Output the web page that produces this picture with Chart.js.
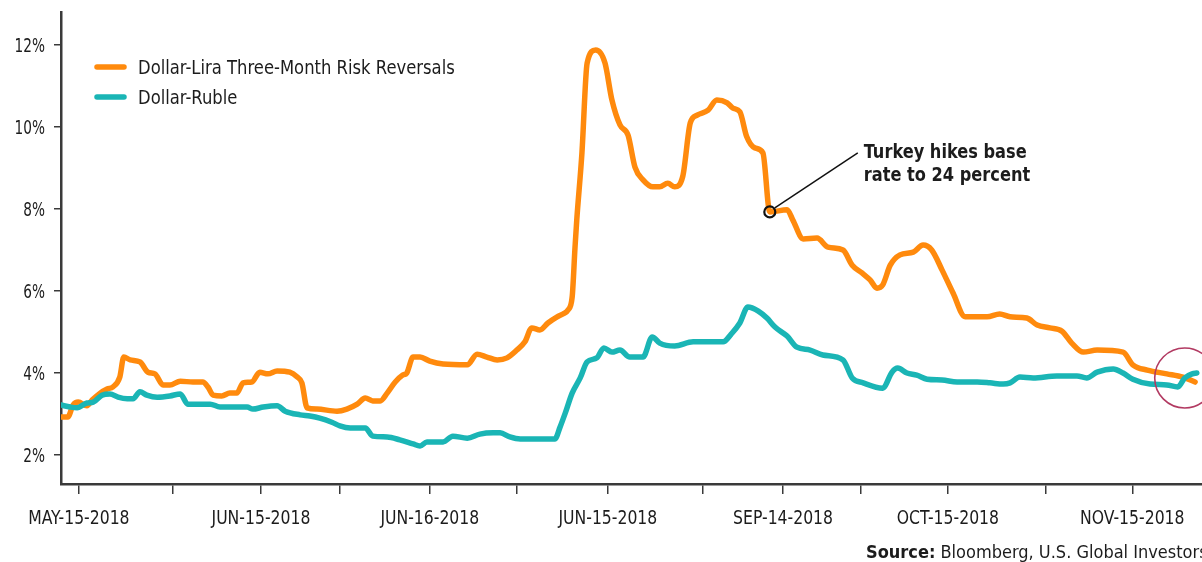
<!DOCTYPE html>
<html><head><meta charset="utf-8">
<script src="https://cdn.jsdelivr.net/npm/chart.js@4.4.1/dist/chart.umd.min.js"></script>
<style>html,body{margin:0;padding:0;background:#fff;overflow:hidden}#wrap{position:relative;width:1202px;height:562px}</style>
</head><body><div id="wrap"><canvas id="c" width="1202" height="562"></canvas></div>
<script>
// x values: days since the axis start (~May 12 2018)
const liraDays = [0,1.2,2.1,3.0,4.5,5.4,6.8,8.0,9.0,10.2,10.9,12.0,13.7,15.1,16.3,17.7,18.9,20.7,22.9,24.6,25.5,26.4,27.9,29.3,30.5,31.6,33.1,34.5,35.9,37.5,39.7,41.0,41.8,42.7,44.4,47.9,49.6,51.4,52.8,54.1,55.4,56.6,58.0,59.3,60.0,61.1,62.3,64.0,66.3,70.5,72.2,73.9,75.7,77.4,79.1,80.5,81.7,83.1,84.5,86.1,87.1,88.0,88.7,89.2,89.5,90.4,91.3,92.8,94.4,95.6,97.0,98.4,99.6,101.0,102.7,103.9,105.3,106.5,107.9,109.2,110.4,112.3,113.8,115.6,116.6,117.8,119.0,120.4,121.8,123.0,126.0,127.0,128.8,131.2,133.1,135.7,137.3,139.0,140.4,141.6,142.6,143.9,145.6,147.9,149.6,151.1,152.9,154.8,156.9,160.7,162.9,164.7,167.6,169.4,171.6,173.7,175.4,177.4,179.8,184.3,186.0,188.5,191.9,194.7,196.8];
const liraValues = [2.93,2.93,3.22,3.29,3.20,3.34,3.51,3.61,3.66,3.90,4.39,4.32,4.27,4.02,3.98,3.71,3.71,3.80,3.78,3.78,3.66,3.46,3.44,3.51,3.51,3.76,3.78,4.02,3.98,4.05,4.02,3.90,3.76,3.15,3.12,3.07,3.12,3.24,3.39,3.32,3.32,3.51,3.78,3.95,4.00,4.39,4.39,4.29,4.22,4.20,4.46,4.39,4.32,4.37,4.56,4.76,5.10,5.05,5.22,5.37,5.44,5.54,5.85,7.07,7.73,9.37,11.56,11.88,11.56,10.66,10.05,9.80,9.02,8.71,8.54,8.54,8.63,8.54,8.80,10.10,10.29,10.41,10.66,10.59,10.46,10.37,9.76,9.49,9.37,7.93,7.98,7.73,7.27,7.29,7.07,7.00,6.63,6.44,6.27,6.07,6.15,6.63,6.88,6.95,7.12,7.00,6.51,5.95,5.37,5.37,5.44,5.37,5.34,5.17,5.10,5.02,4.73,4.51,4.56,4.51,4.20,4.07,3.98,3.90,3.78];
const rubleDays = [0,1.6,2.8,4.5,5.6,7.1,8.5,9.9,11.5,12.5,13.7,14.9,16.7,18.9,20.7,22.0,24.1,25.9,27.6,29.8,32.3,33.3,35.1,37.5,38.9,41.5,43.2,44.9,47.0,48.4,50.2,52.8,54.1,56.6,58.8,61.1,62.3,63.5,66.3,68.0,70.5,72.7,75.0,76.2,77.9,79.7,85.7,86.6,87.5,88.7,90.1,91.3,93.0,94.2,95.6,97.0,98.7,101.0,102.6,103.9,106.5,109.7,111.4,114.9,116.3,117.8,119.2,121.0,122.5,123.9,126.0,127.7,130.0,132.2,135.7,137.3,139.2,142.6,144.2,145.2,146.8,148.5,150.3,152.9,155.5,159.0,161.2,163.5,164.7,166.4,168.7,172.8,176.3,178.0,179.8,182.6,184.3,186.0,189.0,191.9,193.8,195.0,196.3,197.1];
const rubleValues = [3.22,3.17,3.15,3.27,3.29,3.46,3.49,3.41,3.37,3.37,3.54,3.46,3.41,3.44,3.49,3.24,3.24,3.24,3.17,3.17,3.17,3.12,3.17,3.20,3.07,2.98,2.95,2.90,2.80,2.71,2.66,2.66,2.46,2.44,2.37,2.27,2.22,2.32,2.32,2.46,2.41,2.51,2.54,2.54,2.44,2.39,2.39,2.68,3.02,3.51,3.88,4.27,4.37,4.61,4.51,4.56,4.39,4.39,4.88,4.73,4.66,4.76,4.76,4.76,4.95,5.22,5.61,5.51,5.34,5.12,4.90,4.63,4.56,4.44,4.32,3.88,3.76,3.63,4.02,4.12,4.00,3.95,3.85,3.83,3.78,3.78,3.76,3.73,3.76,3.90,3.88,3.93,3.93,3.88,4.02,4.10,4.00,3.85,3.73,3.71,3.66,3.88,3.98,4.00];
const seriesNames = ['Dollar-Lira Three-Month Risk Reversals','Dollar-Ruble'];
const tickDays = [3.1,19.4,34.7,48.4,64.0,79.1,94.9,111.4,125.3,138.7,153.9,170.9,185.9];
const tickLabels = ['MAY-15-2018','','JUN-15-2018','','JUN-16-2018','','JUN-15-2018','','SEP-14-2018','','OCT-15-2018','','NOV-15-2018'];
const yTicks = [2,4,6,8,10,12];
const annotText = ['Turkey hikes base','rate to 24 percent'];
const annotPoint = {day:123.0, value:7.93};
const highlight = {day:195.0, value:3.88};
const sourceBold = 'Source:';
const sourceText = ' Bloomberg, U.S. Global Investors';

const ORANGE = '#FF8A0D', TEAL = '#1AB5B5', INK = '#1c1c1c', AXIS = '#3a3a3a';
const FONT = "'DejaVu Sans Condensed','DejaVu Sans',sans-serif";

const toPts = (xs, ys) => xs.map((x,i)=>({x:x, y:ys[i]}));

function txt(ctx, s, x, y, font, align, sx, base){
  ctx.save();
  ctx.font = font; ctx.fillStyle = INK; ctx.textAlign = align; ctx.textBaseline = base || 'alphabetic';
  ctx.translate(x, y); ctx.scale(sx, 1); ctx.fillText(s, 0, 0);
  ctx.restore();
}

const overlay = {
  id:'overlay',
  afterDatasetsDraw(chart){
    const ctx = chart.ctx, xs = chart.scales.x, ys = chart.scales.y;
    ctx.save();
    tickDays.forEach((d,i)=>{ if(tickLabels[i]) txt(ctx, tickLabels[i], xs.getPixelForValue(d), 524, '20px '+FONT, 'center', 0.87); });
    yTicks.forEach(v=>{ txt(ctx, v+'%', 45, ys.getPixelForValue(v)+7, '20px '+FONT, 'right', 0.76); });
    const colors = [ORANGE, TEAL];
    seriesNames.forEach((n,i)=>{
      const y = 67 + i*30;
      ctx.strokeStyle = colors[i]; ctx.lineWidth = 5.5; ctx.lineCap='round';
      ctx.beginPath(); ctx.moveTo(97,y); ctx.lineTo(124,y); ctx.stroke();
      txt(ctx, n, 138, y+7, '19px '+FONT, 'left', 0.96);
    });
    const cx = xs.getPixelForValue(annotPoint.day), cy = ys.getPixelForValue(annotPoint.value);
    ctx.strokeStyle = '#111'; ctx.lineWidth = 1.5; ctx.lineCap='butt';
    ctx.beginPath(); ctx.moveTo(cx+5, cy-4); ctx.lineTo(cx+88, cy-59); ctx.stroke();
    ctx.lineWidth = 2.2;
    ctx.beginPath(); ctx.arc(cx, cy, 5.5, 0, Math.PI*2); ctx.stroke();
    txt(ctx, annotText[0], cx+94, cy-54, 'bold 20px '+FONT, 'left', 0.9);
    txt(ctx, annotText[1], cx+94, cy-31, 'bold 20px '+FONT, 'left', 0.9);
    const hx = xs.getPixelForValue(highlight.day), hy = ys.getPixelForValue(highlight.value);
    ctx.strokeStyle = '#B23A62'; ctx.lineWidth = 1.6;
    ctx.beginPath(); ctx.arc(hx, hy, 30, 0, Math.PI*2); ctx.stroke();
    ctx.restore();
  },
  afterDraw(chart){
    const ctx = chart.ctx;
    ctx.save();
    ctx.font = 'bold 18px '+FONT;
    const w = ctx.measureText(sourceBold).width;
    txt(ctx, sourceBold, 866, 558, 'bold 18px '+FONT, 'left', 1);
    txt(ctx, sourceText, 866+w, 558, '18px '+FONT, 'left', 1);
    ctx.restore();
  }
};

new Chart(document.getElementById('c'), {
  type:'line',
  data:{datasets:[
    {label:seriesNames[0], data:toPts(liraDays, liraValues), borderColor:ORANGE, borderWidth:5.5, pointRadius:0, cubicInterpolationMode:'monotone', borderJoinStyle:'round', borderCapStyle:'round', order:2},
    {label:seriesNames[1], data:toPts(rubleDays, rubleValues), borderColor:TEAL, borderWidth:5.5, pointRadius:0, cubicInterpolationMode:'monotone', borderJoinStyle:'round', borderCapStyle:'round', order:1}
  ]},
  options:{
    responsive:false, animation:false, devicePixelRatio:1,
    layout:{padding:{top:12,left:0,right:0,bottom:0}},
    plugins:{legend:{display:false}, tooltip:{enabled:false}},
    scales:{
      x:{type:'linear', min:0, max:198,
        afterBuildTicks(s){ s.ticks = tickDays.map(v=>({value:v})); },
        afterFit(s){ s.height = 78; s.paddingLeft = 0; s.paddingRight = 0; },
        ticks:{autoSkip:false, maxRotation:0, padding:12, font:{family:FONT, size:20}, callback:()=>''},
        grid:{drawOnChartArea:false, drawTicks:true, tickLength:10, color:AXIS, lineWidth:1.5},
        border:{display:true, color:AXIS, width:2.5}
      },
      y:{type:'linear', min:1.293, max:12.805,
        afterBuildTicks(s){ s.ticks = yTicks.map(v=>({value:v})); },
        afterFit(s){ s.width = 61; s.paddingTop = 0; s.paddingBottom = 0; },
        ticks:{padding:8, font:{family:FONT, size:19}, callback:()=>''},
        grid:{drawOnChartArea:false, drawTicks:true, tickLength:7, color:AXIS, lineWidth:1.5},
        border:{display:true, color:AXIS, width:2.5}
      }
    }
  },
  plugins:[overlay]
});
</script></body></html>
